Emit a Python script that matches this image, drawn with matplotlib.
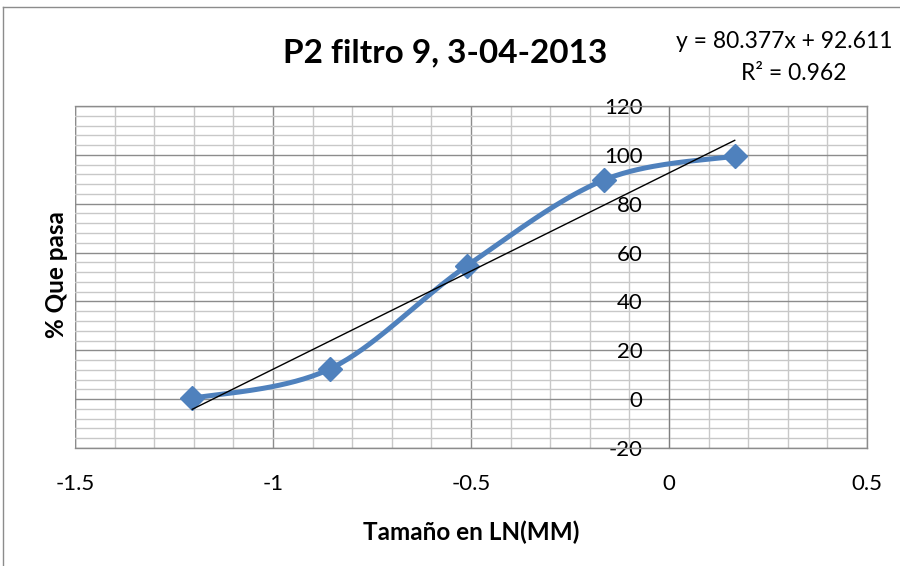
import numpy as np
import matplotlib
matplotlib.use("Agg")
import matplotlib.pyplot as plt
from matplotlib.lines import Line2D
from matplotlib.ticker import MultipleLocator

plt.rcParams['font.family'] = ['Lato', 'DejaVu Sans']
plt.rcParams['axes.unicode_minus'] = False

# Data
ln_size = [-1.204, -0.856, -0.511, -0.163, 0.166]
pct_pass = [0.3, 12.4, 54.5, 89.8, 99.5]
trend_slope = 80.377
trend_intercept = 92.611
x_ticks = [-1.5, -1, -0.5, 0, 0.5]
x_tick_labels = ['-1.5', '-1', '-0.5', '0', '0.5']
y_ticks = [-20, 0, 20, 40, 60, 80, 100, 120]
title = "P2 filtro 9, 3-04-2013"
eq_text = "y = 80.377x + 92.611"
r2_text = "R² = 0.962"
xlabel = "Tamaño en LN(MM)"
ylabel = "% Que pasa"

BLUE = "#4F81BD"

fig = plt.figure(figsize=(9, 5.66), dpi=100)
ax = fig.add_axes([75/900, 1-448/566, (867-75)/900, (448-106)/566])

ax.set_xlim(-1.5, 0.5)
ax.set_ylim(-20, 120)

# grid
ax.xaxis.set_major_locator(MultipleLocator(0.5))
ax.xaxis.set_minor_locator(MultipleLocator(0.1))
ax.yaxis.set_major_locator(MultipleLocator(20))
ax.yaxis.set_minor_locator(MultipleLocator(4))
ax.grid(which='major', color='#8C8C8C', linewidth=1.0)
ax.grid(which='minor', color='#C8C8C8', linewidth=1.0)
ax.set_axisbelow(True)

for s in ['top', 'right', 'bottom']:
    ax.spines[s].set_color('#8C8C8C')
    ax.spines[s].set_linewidth(1.0)
ax.spines['left'].set_position(('data', 0))
ax.spines['left'].set_color('#7F7F7F')
ax.axvline(-1.5, color='#8C8C8C', linewidth=1.0, zorder=0.5)

ax.tick_params(axis='both', which='both', length=0)
ax.tick_params(axis='y', labelsize=16, pad=19)
ax.tick_params(axis='x', labelsize=16, pad=19)
ax.set_xticks(x_ticks)
ax.set_xticklabels(x_tick_labels)
ax.set_yticks(y_ticks)

# Excel-style smooth curve (cardinal Bezier)
P = np.column_stack([ln_size, pct_pass])
n = len(P)
curve = []
t = np.linspace(0, 1, 40)
for i in range(n - 1):
    p0 = P[i]
    p3 = P[i + 1]
    prev = P[i - 1] if i > 0 else P[i]
    nxt = P[i + 2] if i + 2 < n else P[i + 1]
    p1 = p0 + (p3 - prev) / 6.0
    p2 = p3 - (nxt - p0) / 6.0
    seg = ((1 - t)**3)[:, None] * p0 + (3 * (1 - t)**2 * t)[:, None] * p1 \
        + (3 * (1 - t) * t**2)[:, None] * p2 + (t**3)[:, None] * p3
    curve.append(seg)
curve = np.vstack(curve)
ax.plot(curve[:, 0], curve[:, 1], color=BLUE, linewidth=3.6, solid_capstyle='round', zorder=3)
ax.plot(ln_size, pct_pass, linestyle='none', marker='D', markersize=12.5,
        color=BLUE, zorder=4)

# trend line
tx = np.array([min(ln_size), max(ln_size)])
ax.plot(tx, trend_slope * tx + trend_intercept, color='black', linewidth=1.0, zorder=5)

ax.set_xlabel(xlabel, fontsize=17.5, fontweight='bold')
ax.set_ylabel(ylabel, fontsize=17.5, fontweight='bold')
ax.yaxis.set_label_coords(-(75-57)/792, (448-275)/342)
ax.xaxis.set_label_coords((471-75)/792, -(532-448)/342)
ax.xaxis.label.set_va('center')
ax.yaxis.label.set_va('center')

fig.text(445/900, 1-53/566, title, fontsize=24, fontweight='bold', ha='center', va='center')
fig.text(676/900, 1-42/566, eq_text, fontsize=16.5, ha='left', va='center')
fig.text(794/900, 1-74/566, r2_text, fontsize=16.5, ha='center', va='center')

# chart area border (left and top visible)
fig.add_artist(Line2D([3/900, 3/900], [0, 1-7/566], color='#8C8C8C', linewidth=1.0))
fig.add_artist(Line2D([3/900, 1], [1-7/566, 1-7/566], color='#8C8C8C', linewidth=1.0))

fig.savefig("out.png", dpi=100)
